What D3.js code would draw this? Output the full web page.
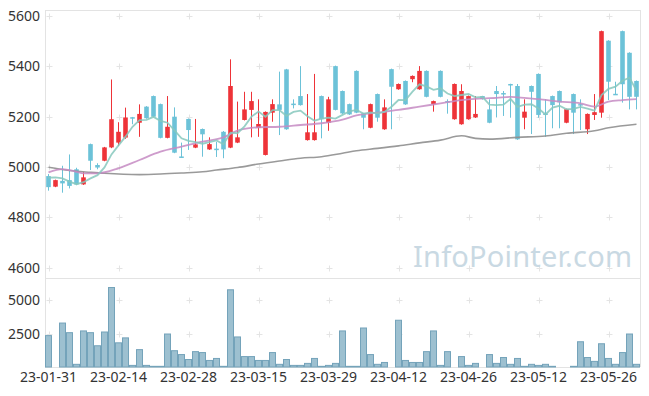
<!DOCTYPE html>
<html>
<head>
<meta charset="utf-8">
<script src="https://cdn.jsdelivr.net/npm/d3@7"></script>
<style>
  body { margin: 0; background: #fff; }
  text { font-family: "Noto Sans", sans-serif; }
</style>
</head>
<body>
<div class="chart"></div>
<script>
var width = 649, height = 396;

// trading days
var dates = ["23-01-31",
  "23-02-01","23-02-02","23-02-03","23-02-06","23-02-07","23-02-08","23-02-09","23-02-10","23-02-13","23-02-14",
  "23-02-15","23-02-16","23-02-17","23-02-20","23-02-21","23-02-22","23-02-23","23-02-24","23-02-27","23-02-28",
  "23-03-02","23-03-03","23-03-06","23-03-07","23-03-08","23-03-09","23-03-10","23-03-13","23-03-14","23-03-15",
  "23-03-16","23-03-17","23-03-20","23-03-21","23-03-22","23-03-23","23-03-24","23-03-27","23-03-28","23-03-29",
  "23-03-30","23-03-31","23-04-03","23-04-04","23-04-05","23-04-06","23-04-07","23-04-10","23-04-11","23-04-12",
  "23-04-13","23-04-14","23-04-17","23-04-18","23-04-19","23-04-20","23-04-21","23-04-24","23-04-25","23-04-26",
  "23-04-27","23-04-28","23-05-02","23-05-03","23-05-04","23-05-08","23-05-09","23-05-10","23-05-11","23-05-12",
  "23-05-15","23-05-16","23-05-17","23-05-18","23-05-19","23-05-22","23-05-23","23-05-24","23-05-25","23-05-26",
  "23-05-30","23-05-31","23-06-01","23-06-02"];

var opens = [4964,4922,4945,4948,4991,4931,5091,5008,5025,5078,
  5097,5117,5198,5176,5240,5282,5250,5116,5200,5042,
  5191,5077,5151,5070,5073,5140,5077,5097,5187,5227,
  5156,5048,5216,5249,5388,5252,5282,5107,5107,5282,
  5176,5401,5302,5250,5382,5213,5156,5290,5150,5389,
  5309,5342,5349,5309,5382,5250,5382,5262,5190,5170,
  5190,5197,5282,5229,5302,5294,5330,5322,5196,5322,
  5370,5213,5282,5302,5176,5290,5250,5150,5207,5216,
  5502,5291,5540,5454,5342];

var highs = [4972,4950,5005,5050,4997,4981,5093,5015,5080,5348,
  5178,5236,5199,5249,5242,5284,5252,5282,5237,5097,
  5193,5191,5153,5118,5100,5143,5428,5260,5299,5299,
  5269,5221,5269,5379,5390,5269,5401,5290,5370,5284,
  5279,5403,5304,5252,5384,5215,5252,5292,5269,5391,
  5332,5344,5364,5401,5384,5264,5384,5269,5332,5329,
  5284,5282,5283,5269,5322,5302,5331,5330,5269,5324,
  5372,5270,5284,5304,5232,5292,5269,5213,5290,5542,
  5504,5339,5542,5456,5344];

var lows = [4906,4920,4898,4915,4928,4929,4988,4991,5023,5075,
  5084,5112,5170,5120,5192,5198,5114,5114,5055,5037,
  5068,5075,5041,5068,5040,5035,5075,5095,5185,5118,
  5120,5046,5180,5127,5148,5233,5244,5105,5105,5114,
  5144,5225,5211,5207,5214,5150,5154,5180,5148,5150,
  5307,5247,5337,5307,5277,5220,5277,5212,5188,5168,
  5188,5195,5268,5174,5197,5203,5196,5108,5150,5131,
  5196,5120,5154,5154,5174,5131,5147,5131,5187,5196,
  5266,5287,5256,5229,5229];

var closes = [4920,4948,4935,4925,4931,4959,5025,4998,5078,5190,
  5140,5197,5195,5211,5194,5200,5116,5160,5057,5039,
  5147,5090,5130,5091,5070,5070,5322,5118,5229,5262,
  5171,5219,5250,5227,5150,5248,5246,5138,5138,5190,
  5269,5227,5213,5209,5216,5196,5250,5196,5237,5319,
  5330,5249,5362,5382,5279,5262,5279,5258,5330,5302,
  5282,5211,5270,5176,5290,5291,5327,5110,5220,5299,
  5207,5208,5246,5257,5230,5216,5245,5211,5218,5540,
  5339,5289,5329,5279,5279];

var volume = [2350,0,3290,2570,200,2700,2570,1590,2620,5950,
  1810,2180,120,1300,120,50,50,2470,1220,930,
  560,1150,1080,490,640,50,5780,2250,780,780,
  490,490,1080,200,560,120,120,270,640,50,
  120,270,2700,50,50,2920,930,200,340,0,
  3500,490,340,340,1150,2700,120,1150,0,780,
  120,270,0,930,270,710,200,640,50,200,
  120,200,50,0,0,50,1890,710,420,1740,
  640,200,1080,2470,200];

// 5 day average
var ma5 = [4958,4959,4955,4942,4931.8,4939.6,4955,4967.6,4998.2,5050,
  5086.2,5120.6,5160,5186.6,5187.4,5199.4,5183.2,5176.2,5145.4,5114.4,
  5103.8,5098.6,5092.6,5099.4,5105.6,5090.2,5136.6,5134.2,5161.8,5200.2,
  5220.4,5199.8,5226.2,5225.8,5203.4,5218.8,5224.2,5201.8,5184,5192,
  5196.2,5192.4,5207.4,5221.6,5226.8,5212.2,5216.8,5213.4,5219,5239.6,
  5266.4,5266.2,5299.4,5328.4,5320.4,5306.8,5312.8,5292,5281.6,5286.2,
  5290.2,5276.6,5279,5248.2,5245.8,5247.6,5270.8,5238.8,5247.6,5249.4,
  5232.6,5208.8,5236,5243.4,5229.6,5231.4,5238.8,5231.8,5224,5286,
  5310.6,5319.4,5343,5355.2,5303];

// 20 and 60 day averages, read at these days
var ma20Day = [0,2,4,5,7,10,13,16,19,22,25,27,30,33,36,39,42,44,47,50,53,56,59,62,64,66,67,70,73,76,78,80,82,84];
var ma20 = [4979,4992,4981,4975,4975,4995,5028,5061,5081,5101,5118,5145,5158,5160,5167,5174,5188,5205,5216,5227,5240,5253,5266,5273,5275,5279,5277,5270,5260,5253,5240,5260,5266,5270];
var ma60Day = [0,3,6,8,13,16,19,22,24,27,30,33,36,39,42,44,47,50,53,56,59,61,63,67,71,74,78,80,84];
var ma60 = [4999,4986,4979,4975,4970,4972,4976,4981,4988,4998,5012,5024,5035,5041,5055,5065,5074,5084,5096,5107,5124,5114,5111,5118,5123,5134,5144,5156,5170];

var dateTicks = ["23-01-31","23-02-14","23-02-28","23-03-15","23-03-29","23-04-12","23-04-26","23-05-12","23-05-26"];
var priceTicks = [4600,4800,5000,5200,5400,5600];
var volumeTicks = [2500,5000];

var plotLeft = 45, plotRight = 640, plotTop = 10, plotMid = 278, plotBottom = 367;

var svg = d3.select('.chart')
  .append('svg')
  .attr('width', width)
  .attr('height', height);

var x = d3.scaleBand().domain(dates).range([plotLeft, plotRight]).padding(0);
var y = d3.scaleLinear().domain([4559, 5624]).range([plotMid, plotTop]);
var yv = d3.scaleLinear().domain([0, 6700]).range([plotBottom, plotMid - 0.5]);
var cx = function(i) { return x(dates[i]) + x.bandwidth() / 2; };

// frame
var frame = svg.append('g').attr('stroke', '#e3e3e3').attr('fill', 'none');
frame.append('line').attr('x1', plotLeft).attr('x2', plotRight).attr('y1', plotTop + 0.5).attr('y2', plotTop + 0.5);
frame.append('line').attr('x1', plotLeft).attr('x2', plotRight).attr('y1', plotMid + 0.5).attr('y2', plotMid + 0.5);
frame.append('line').attr('x1', plotLeft).attr('x2', plotRight).attr('y1', plotBottom + 0.5).attr('y2', plotBottom + 0.5);
frame.append('line').attr('x1', plotLeft + 0.5).attr('x2', plotLeft + 0.5).attr('y1', plotTop).attr('y2', plotBottom);
frame.append('line').attr('x1', plotRight + 0.5).attr('x2', plotRight + 0.5).attr('y1', plotTop).attr('y2', plotBottom);

// grid crosses
var crossY = priceTicks.map(function(d) { return y(d); }).concat(volumeTicks.map(function(d) { return yv(d); }));
var crosses = svg.append('g').attr('stroke', '#e4e4e4');
dateTicks.forEach(function(d) {
  var px = Math.round(x(d) + x.bandwidth() / 2) + 0.5;
  crossY.forEach(function(py) {
    py = Math.round(py) + 0.5;
    crosses.append('line').attr('x1', px - 3).attr('x2', px + 3).attr('y1', py).attr('y2', py);
    crosses.append('line').attr('x1', px).attr('x2', px).attr('y1', py - 3).attr('y2', py + 3);
  });
});

// watermark
svg.append('text')
  .attr('x', 632).attr('y', 267)
  .attr('text-anchor', 'end')
  .attr('font-size', 29)
  .attr('fill', '#c9d9e3')
  .attr('textLength', 219)
  .text('InfoPointer.com');

// volume
svg.append('g')
  .selectAll('rect')
  .data(volume)
  .enter().append('rect')
  .attr('x', function(d, i) { return x(dates[i]) + 0.5; })
  .attr('width', x.bandwidth() - 1)
  .attr('y', function(d) { return yv(d); })
  .attr('height', function(d) { return plotBottom - yv(d); })
  .attr('fill', '#9dc0d0')
  .attr('stroke', '#74a3ba')
  .attr('stroke-width', 1)
  .style('display', function(d) { return d > 0 ? null : 'none'; });

// candles
var up = '#ee3338', down = '#6cc2d8';
var candles = svg.append('g')
  .selectAll('g')
  .data(dates)
  .enter().append('g')
  .attr('fill', function(d, i) { return closes[i] > opens[i] ? up : down; })
  .attr('stroke', function(d, i) { return closes[i] > opens[i] ? up : down; });

candles.append('line')
  .attr('x1', function(d, i) { return cx(i); })
  .attr('x2', function(d, i) { return cx(i); })
  .attr('y1', function(d, i) { return y(highs[i]); })
  .attr('y2', function(d, i) { return y(lows[i]); })
  .attr('stroke-width', 1);

candles.append('rect')
  .attr('stroke', 'none')
  .attr('x', function(d, i) { return cx(i) - 2.3; })
  .attr('width', 4.6)
  .attr('y', function(d, i) { return y(Math.max(opens[i], closes[i])); })
  .attr('height', function(d, i) { return Math.max(1.5, Math.abs(y(opens[i]) - y(closes[i]))); });

// moving averages
var line = d3.line()
  .x(function(d) { return cx(d[0]); })
  .y(function(d) { return y(d[1]); })
  .curve(d3.curveMonotoneX);

svg.append('path')
  .attr('d', line(ma60Day.map(function(d, i) { return [d, ma60[i]]; })))
  .attr('fill', 'none').attr('stroke', '#8f8f8f').attr('stroke-width', 1.6).attr('opacity', 0.9);
svg.append('path')
  .attr('d', line(ma20Day.map(function(d, i) { return [d, ma20[i]]; })))
  .attr('fill', 'none').attr('stroke', '#c58bc3').attr('stroke-width', 1.8).attr('opacity', 0.85);
svg.append('path')
  .attr('d', d3.line().x(function(d, i) { return cx(i); }).y(function(d) { return y(d); })(ma5))
  .attr('fill', 'none').attr('stroke', '#86c8bd').attr('stroke-width', 1.8).attr('opacity', 0.85);

// axis labels
svg.append('g').selectAll('text')
  .data(priceTicks).enter().append('text')
  .attr('x', 40).attr('y', function(d) { return y(d); })
  .attr('dy', '0.35em')
  .attr('text-anchor', 'end').attr('font-size', 14).attr('fill', '#333')
  .text(function(d) { return d; });

svg.append('g').selectAll('text')
  .data(volumeTicks).enter().append('text')
  .attr('x', 40).attr('y', function(d) { return yv(d); })
  .attr('dy', '0.35em')
  .attr('text-anchor', 'end').attr('font-size', 14).attr('fill', '#333')
  .text(function(d) { return d; });

svg.append('g').selectAll('text')
  .data(dateTicks).enter().append('text')
  .attr('x', function(d) { return x(d) + x.bandwidth() / 2; })
  .attr('y', 382)
  .attr('text-anchor', 'middle').attr('font-size', 14).attr('fill', '#333')
  .text(function(d) { return d; });
</script>
</body>
</html>
